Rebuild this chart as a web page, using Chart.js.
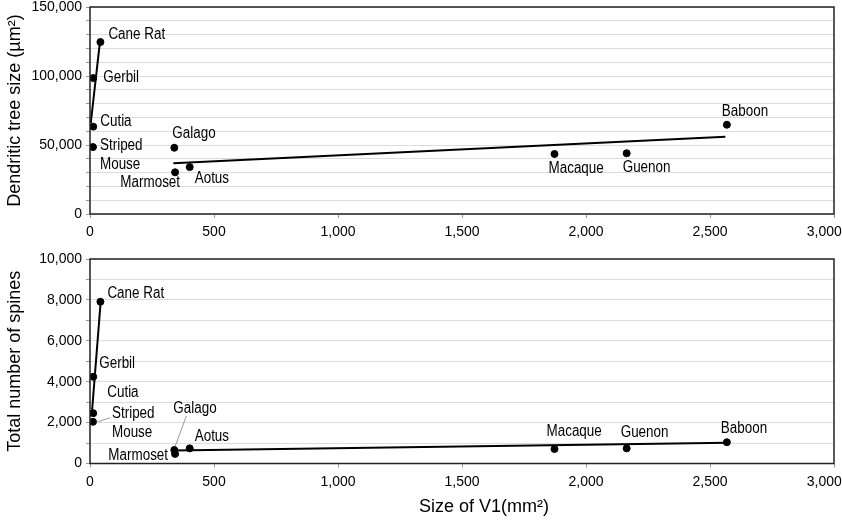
<!DOCTYPE html>
<html lang="en">
<head>
  <meta charset="UTF-8">
  <title>V1 size vs dendritic tree size and spine count</title>
  <script src="https://cdn.jsdelivr.net/npm/chart.js"></script>
  <style>
    body { margin: 0; background: #fff; overflow: hidden; }
    .panel { position: absolute; left: 0; }
    #topPanel { top: 0; }
    #bottomPanel { top: 245px; }
  </style>
</head>
<body>
  <div class="panel" id="topPanel"><canvas id="treeChart" width="842" height="245"></canvas></div>
  <div class="panel" id="bottomPanel"><canvas id="spineChart" width="842" height="278"></canvas></div>

  <script>
    // Species and values
    const species = ['Cane Rat', 'Gerbil', 'Cutia', ['Striped', 'Mouse'], 'Galago', 'Marmoset', 'Aotus', 'Macaque', 'Guenon', 'Baboon'];
    const v1Size = [42, 13, 13, 12, 340, 343, 402, 1873, 2164, 2568];
    const treeSize = [124600, 98500, 63300, 48500, 48000, 30200, 34000, 43500, 44000, 64700];
    const spineCount = [7910, 4240, 2460, 2040, 660, 470, 740, 710, 740, 1040];

    // Fit lines (end points)
    const treeRodentFitX = [3, 40];
    const treeRodentFitY = [65800, 124600];
    const treePrimateFitX = [336, 2562];
    const treePrimateFitY = [36700, 56000];
    const spineRodentFitX = [7, 43];
    const spineRodentFitY = [2370, 7910];
    const spinePrimateFitX = [336, 2572];
    const spinePrimateFitY = [640, 1020];

    const xTicks = [0, 500, 1000, 1500, 2000, 2500, 3000];

    // label placement, in pixels from the point: [dx, dy, align]
    const treeLabelPos = [[8, -7, 'left'], [10, 0, 'left'], [7, -5, 'left'], [7, -1, 'left'], [-2, -14, 'left'],
      [5, 10, 'right'], [5, 12, 'left'], [-6, 15, 'left'], [-4, 14, 'left'], [-5, -13, 'left']];
    const spineLabelPos = [[7, -8, 'left'], [6, -13, 'left'], [14, -21, 'left'], [19, -8, 'left'], [-1, -41, 'left'],
      [-7, 2, 'right'], [5, -12, 'left'], [-8, -17, 'left'], [-6, -16, 'left'], [-6, -14, 'left']];
    // grey leader lines: [species index, x1, y1, x2, y2] relative to the point
    const spineLeaders = [[3, 5, 0, 17, -4], [4, 1, -4, 12, -34]];

    const FONT = "'Liberation Sans', Arial, sans-serif";
    Chart.defaults.font.family = FONT;
    Chart.defaults.font.size = 14;
    Chart.defaults.color = '#000';

    const toXY = (xs, ys) => xs.map((x, i) => ({ x: x, y: ys[i] }));
    const fmt = v => v.toLocaleString('en-US');

    // species names next to the dots, plus frame round the plot
    const annotate = {
      id: 'annotate',
      afterDatasetsDraw(chart, args, opts) {
        const ctx = chart.ctx;
        const xs = chart.scales.x, ys = chart.scales.y;
        const area = chart.chartArea;
        ctx.save();
        (opts.leaders || []).forEach(l => {
          const px = xs.getPixelForValue(v1Size[l[0]]);
          const py = ys.getPixelForValue(opts.values[l[0]]);
          ctx.strokeStyle = '#999';
          ctx.lineWidth = 1;
          ctx.beginPath();
          ctx.moveTo(px + l[1], py + l[2]);
          ctx.lineTo(px + l[3], py + l[4]);
          ctx.stroke();
        });
        ctx.fillStyle = '#000';
        ctx.font = '16px ' + FONT;
        ctx.textBaseline = 'middle';
        species.forEach((name, i) => {
          const px = xs.getPixelForValue(v1Size[i]);
          const py = ys.getPixelForValue(opts.values[i]);
          const p = opts.pos[i];
          ctx.textAlign = p[2];
          const lines = Array.isArray(name) ? name : [name];
          lines.forEach((t, k) => {
            // the source uses a condensed face: squeeze the text sideways
            ctx.save();
            ctx.translate(px + p[0], py + p[1] + k * 18.5);
            ctx.scale(0.84, 1);
            ctx.fillText(t, 0, 0);
            ctx.restore();
          });
        });
        ctx.strokeStyle = '#222';
        ctx.lineWidth = 1.5;
        ctx.strokeRect(area.left, area.top, area.right - area.left, area.bottom - area.top);
        if (opts.xTitle) {
          ctx.font = '18px ' + FONT;
          ctx.textAlign = 'center';
          ctx.fillText(opts.xTitle, (area.left + area.right) / 2 + 22, area.bottom + 44);
        }
        ctx.restore();
      }
    };

    function makeChart(id, cfg) {
      const canvas = document.getElementById(id);
      const H = canvas.height;
      return new Chart(canvas.getContext('2d'), {
        type: 'scatter',
        data: {
          datasets: [
            { data: toXY(v1Size, cfg.values), backgroundColor: '#000', borderColor: '#000', pointRadius: 3.5, pointHoverRadius: 3.5 },
            { data: toXY(cfg.rodentX, cfg.rodentY), showLine: true, borderColor: '#000', borderWidth: 2, pointRadius: 0 },
            { data: toXY(cfg.primateX, cfg.primateY), showLine: true, borderColor: '#000', borderWidth: 2, pointRadius: 0 }
          ]
        },
        options: {
          responsive: false,
          animation: false,
          layout: { padding: { top: cfg.top, right: 8, left: 0, bottom: 0 } },
          scales: {
            x: {
              type: 'linear',
              min: 0,
              max: 3000,
              afterBuildTicks: s => { s.ticks = xTicks.map(v => ({ value: v })); },
              ticks: {
                autoSkip: false,
                maxRotation: 0,
                padding: 6,
                callback: v => v === 3000 ? fmt(v) + '     ' : fmt(v)
              },
              grid: { drawOnChartArea: false, tickLength: 4, color: '#999' },
              border: { display: false },
              afterFit: s => { s.height = H - cfg.bottom; s.paddingLeft = 0; s.paddingRight = 0; }
            },
            y: {
              min: 0,
              max: cfg.max,
              ticks: {
                stepSize: cfg.step,
                autoSkip: false,
                padding: 4,
                callback: v => v % cfg.labelStep === 0 ? fmt(v) : ''
              },
              grid: { color: '#dcdcdc', tickLength: 4, tickColor: '#999' },
              border: { display: false },
              title: { display: true, text: cfg.yTitle, font: { size: 18 }, padding: { top: 4, bottom: 0 } },
              afterFit: s => { s.width = 90; s.paddingTop = 0; s.paddingBottom = 0; }
            }
          },
          plugins: {
            legend: { display: false },
            tooltip: { enabled: false },
            annotate: { values: cfg.values, pos: cfg.pos, leaders: cfg.leaders, xTitle: cfg.xTitle }
          }
        },
        plugins: [annotate]
      });
    }

    makeChart('treeChart', {
      values: treeSize, rodentX: treeRodentFitX, rodentY: treeRodentFitY,
      primateX: treePrimateFitX, primateY: treePrimateFitY,
      max: 150000, step: 10000, labelStep: 50000, top: 7, bottom: 214,
      yTitle: 'Dendritic tree size (µm²)', pos: treeLabelPos
    });

    makeChart('spineChart', {
      values: spineCount, rodentX: spineRodentFitX, rodentY: spineRodentFitY,
      primateX: spinePrimateFitX, primateY: spinePrimateFitY,
      max: 10000, step: 1000, labelStep: 2000, top: 14, bottom: 218.5,
      yTitle: 'Total number of spines', pos: spineLabelPos, leaders: spineLeaders,
      xTitle: 'Size of V1(mm²)'
    });
  </script>
</body>
</html>
